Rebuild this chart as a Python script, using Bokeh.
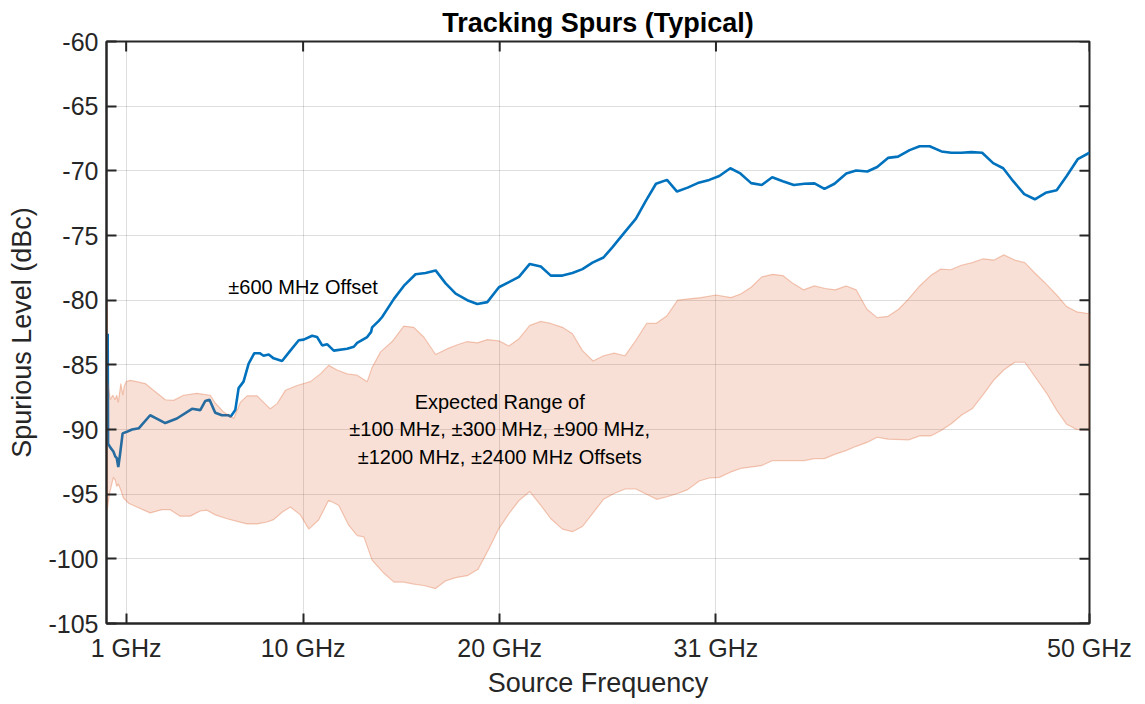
from bokeh.plotting import figure
from bokeh.models import FixedTicker, Range1d, Label, Title
from bokeh.embed import file_html
from bokeh.resources import INLINE

# ---------------- data (GHz, dBc) ----------------
x_ticks = [1, 10, 20, 31, 50]
x_tick_labels = ["1 GHz", "10 GHz", "20 GHz", "31 GHz", "50 GHz"]
y_ticks = [-105, -100, -95, -90, -85, -80, -75, -70, -65, -60]
y_tick_labels = ["-105", "-100", "-95", "-90", "-85", "-80", "-75", "-70", "-65", "-60"]

# +/-600 MHz offset spur (blue line)
freq_600 = [0.06, 0.08, 0.2, 0.35, 0.45, 0.52, 0.6, 0.69, 0.82, 1.0,
            1.3, 1.65, 2.22, 2.48, 2.99, 3.58, 4.35, 4.77, 5.02, 5.24,
            5.53, 5.87, 6.21, 6.32, 6.55, 6.72, 6.97, 7.23, 7.52, 7.79,
            7.99, 8.25, 8.5, 8.93, 9.35, 9.78, 10.03, 10.46, 10.71, 10.97,
            11.22, 11.56, 12.24, 12.58, 12.75, 13.26, 13.46, 13.51, 13.85, 14.02,
            14.62, 15.12, 15.72, 16.23, 16.74, 17.25, 17.76, 18.35, 18.86, 19.37,
            19.96, 20.47, 20.98, 21.53, 22.09, 22.6, 23.19, 23.7, 24.21, 24.72,
            25.28, 25.74, 26.33, 26.93, 27.44, 27.95, 28.51, 29.02, 29.56, 30.07,
            30.66, 31.17, 31.73, 32.24, 32.79, 33.33, 33.86, 34.40, 34.96, 35.50,
            36.01, 36.52, 37.03, 37.63, 38.13, 38.70, 39.2, 39.75, 40.26, 40.85,
            41.36, 41.87, 42.47, 42.97, 43.48, 43.99, 44.54, 45.1, 45.61, 46.12,
            46.68, 47.22, 47.77, 48.33, 48.84, 49.40, 50.0]
spur_600 = [-82.6, -91.1, -91.4, -91.7, -92.1, -92.2, -92.9, -91.9, -90.3, -90.2,
            -90.0, -89.9, -88.9, -89.1, -89.5, -89.15, -88.4, -88.5, -87.8, -87.7,
            -88.7, -88.9, -88.9, -89.0, -88.5, -86.8, -86.3, -84.9, -84.1, -84.1,
            -84.3, -84.2, -84.5, -84.7, -83.9, -83.1, -83.05, -82.75, -82.85, -83.5,
            -83.4, -83.9, -83.75, -83.6, -83.3, -82.85, -82.45, -82.1, -81.6, -81.3,
            -79.9, -78.9, -78.0, -77.9, -77.7, -78.7, -79.5, -80.0, -80.3, -80.15,
            -79.0, -78.6, -78.2, -77.2, -77.4, -78.1, -78.1, -77.9, -77.6, -77.1,
            -76.7, -75.9, -74.8, -73.7, -72.3, -71.0, -70.7, -71.6, -71.3, -70.95,
            -70.7, -70.4, -69.8, -70.2, -70.95, -71.1, -70.5, -70.8, -71.1, -71.0,
            -70.97, -71.4, -71.0, -70.2, -69.97, -70.05, -69.7, -69.0, -68.9, -68.4,
            -68.1, -68.1, -68.5, -68.6, -68.6, -68.55, -68.6, -69.4, -69.8, -70.8,
            -71.8, -72.2, -71.7, -71.5, -70.4, -69.1, -68.6]

# Expected range band: upper edge
freq_upper = [0.04, 0.06, 0.19, 0.32, 0.44, 0.52, 0.6, 0.73, 0.83, 0.9,
              1.0, 1.2, 1.54, 1.97, 2.39, 2.99, 3.41, 3.92, 4.6, 5.28,
              5.53, 5.96, 6.47, 6.81, 7.15, 7.66, 7.99, 8.33, 8.68, 9.1,
              9.69, 10.37, 10.88, 11.3, 11.73, 12.24, 12.75, 13.26, 13.51, 13.94,
              14.53, 15.12, 15.63, 16.14, 16.74, 17.34, 17.85, 18.35, 18.86, 19.37,
              19.96, 20.47, 20.98, 21.53, 22.09, 22.6, 23.19, 23.7, 24.21, 24.75,
              25.28, 25.82, 26.37, 26.93, 27.47, 27.95, 28.51, 29.05, 29.64, 30.24,
              31.0, 31.77, 32.28, 32.79, 33.33, 33.89, 34.40, 34.91, 35.45, 36.01,
              36.56, 37.07, 37.63, 38.13, 38.68, 39.2, 39.75, 40.29, 40.8, 41.36,
              41.92, 42.43, 42.94, 43.48, 44.03, 44.59, 45.15, 45.64, 46.2, 46.71,
              47.22, 47.73, 48.33, 48.84, 49.35, 50.0]
level_upper = [-79.9, -86.2, -87.7, -87.35, -87.7, -87.35, -87.9, -86.45, -87.35, -86.7,
               -86.3, -86.2, -86.3, -86.45, -86.97, -87.7, -87.75, -87.35, -87.2, -87.35,
               -87.95, -88.65, -89.15, -87.9, -87.4, -87.4, -87.9, -88.4, -88.0, -86.97,
               -86.6, -86.3, -85.7, -85.04, -85.4, -85.7, -85.8, -86.3, -85.2, -84.0,
               -83.2, -82.0, -82.1, -82.85, -84.2, -83.75, -83.45, -83.2, -83.3, -83.05,
               -83.15, -83.55, -82.98, -81.95, -81.64, -81.8, -82.1, -82.6, -83.9, -84.7,
               -84.3, -84.1, -84.3, -83.1, -81.8, -81.8, -81.2, -80.0, -79.9, -79.8,
               -79.6, -79.8, -79.5, -79.0, -78.2, -78.0, -78.1, -78.7, -79.2, -78.9,
               -79.1, -79.2, -78.9, -79.2, -80.7, -81.35, -81.25, -80.7, -79.9, -78.9,
               -78.1, -77.6, -77.65, -77.3, -77.1, -76.8, -76.9, -76.5, -76.9, -77.1,
               -77.9, -78.65, -79.6, -80.5, -80.9, -81.05]

# Expected range band: lower edge
freq_lower = [0.04, 0.15, 0.35, 0.44, 0.52, 0.6, 0.73, 0.86, 1.0, 1.12,
              1.54, 2.22, 2.82, 3.24, 3.75, 4.26, 4.77, 5.11, 5.53, 6.13,
              6.64, 7.15, 7.66, 8.17, 8.5, 8.93, 9.35, 9.86, 10.29, 10.79,
              11.3, 11.81, 12.32, 12.75, 13.09, 13.51, 14.1, 14.62, 15.12, 15.63,
              16.14, 16.74, 17.25, 17.76, 18.35, 18.9, 19.46, 19.96, 20.47, 20.98,
              21.53, 22.09, 22.6, 23.19, 23.7, 24.21, 24.72, 25.28, 25.82, 26.38,
              26.93, 27.47, 28.0, 28.51, 29.05, 29.56, 30.15, 30.66, 31.17, 31.73,
              32.28, 33.3, 33.89, 34.91, 35.5, 36.01, 36.52, 37.07, 37.58, 38.13,
              38.68, 39.2, 39.75, 40.8, 41.36, 41.92, 42.43, 42.97, 43.48, 44.03,
              44.59, 45.15, 45.64, 46.2, 46.71, 47.22, 47.82, 48.33, 48.84, 49.35,
              50.0]
level_lower = [-96.2, -94.95, -93.7, -93.9, -94.4, -94.2, -94.7, -95.3, -95.5, -95.7,
               -95.99, -96.45, -96.2, -96.2, -96.7, -96.7, -96.3, -96.24, -96.6, -96.9,
               -97.1, -97.3, -97.3, -97.15, -96.97, -96.4, -95.99, -96.6, -97.7, -97.0,
               -95.47, -95.86, -97.4, -98.2, -98.3, -100.1, -101.1, -101.8, -101.8, -101.95,
               -102.06, -102.3, -101.7, -101.45, -101.3, -100.8, -99.2, -97.66, -96.5, -95.5,
               -94.8, -95.86, -96.9, -97.7, -97.9, -97.5, -96.5, -95.4, -94.95, -94.6,
               -94.6, -95.0, -95.4, -95.2, -94.95, -94.65, -93.98, -93.75, -93.7, -93.3,
               -93.0, -92.8, -92.4, -92.4, -92.4, -92.25, -92.25, -91.9, -91.65, -91.3,
               -91.0, -90.6, -90.75, -90.8, -90.5, -90.5, -90.1, -89.55, -88.9, -88.4,
               -87.3, -86.15, -85.4, -84.8, -84.8, -85.9, -87.2, -88.5, -89.6, -90.0,
               -90.05]

# ---------------- styling ----------------
FONT = "Liberation Sans"
AX_COLOR = "#262626"
BLUE = "#0072BD"
ORANGE = "#D95319"
FRAME_W, FRAME_H = 983, 582
X0, X1, Y0, Y1 = 0, 50, -105, -60
TICK_PX = 10

p = figure(frame_width=FRAME_W, frame_height=FRAME_H, output_backend="svg",
           toolbar_location=None,
           x_range=Range1d(X0, X1), y_range=Range1d(Y0, Y1),
           min_border_left=106, min_border_right=49, min_border_top=41,
           min_border_bottom=70, background_fill_color="white",
           border_fill_color="white", outline_line_color=AX_COLOR,
           outline_line_width=2, outline_line_alpha=1.0)

p.title = Title(text="Tracking Spurs (Typical)", align="center",
                text_font=FONT, text_font_size="27px", text_font_style="bold",
                text_color="black", standoff=8)

# main axes
p.xaxis.ticker = FixedTicker(ticks=x_ticks)
p.xaxis.major_label_overrides = {t: lab for t, lab in zip(x_ticks, x_tick_labels)}
p.yaxis.ticker = FixedTicker(ticks=y_ticks)
p.yaxis.major_label_overrides = {t: lab for t, lab in zip(y_ticks, y_tick_labels)}
p.xaxis.axis_label = "Source Frequency"
p.yaxis.axis_label = "Spurious Level (dBc)"

for ax in (p.xaxis[0], p.yaxis[0]):
    ax.axis_line_color = AX_COLOR
    ax.axis_line_width = 2
    ax.major_tick_line_color = AX_COLOR
    ax.major_tick_line_width = 2
    ax.major_tick_in = TICK_PX
    ax.major_tick_out = 0
    ax.minor_tick_in = 0
    ax.minor_tick_out = 0
    ax.major_label_text_font = FONT
    ax.major_label_text_font_size = "25px"
    ax.major_label_text_color = AX_COLOR
    ax.axis_label_text_font = FONT
    ax.axis_label_text_font_size = "27px"
    ax.axis_label_text_font_style = "normal"
    ax.axis_label_text_color = AX_COLOR
p.xaxis.major_label_standoff = 10
p.xaxis.axis_label_standoff = 3
p.yaxis.major_label_standoff = 8
p.yaxis.axis_label_standoff = 8

# grid
p.xgrid.ticker = FixedTicker(ticks=x_ticks)
p.ygrid.ticker = FixedTicker(ticks=y_ticks)
p.grid.grid_line_color = "black"
p.grid.grid_line_alpha = 0.13
p.grid.grid_line_width = 1

# blue line (drawn first; band drawn on top, semi-transparent)
p.line(freq_600, spur_600, line_color=BLUE, line_width=2.6)

band_x = list(freq_upper) + list(reversed(freq_lower))
band_y = list(level_upper) + list(reversed(level_lower))
p.patch(band_x, band_y, fill_color=ORANGE, fill_alpha=0.18,
        line_color=ORANGE, line_alpha=0.3, line_width=1.2)

# inward tick marks on the top and right edges of the box (MATLAB "box on")
tick_dx = TICK_PX * (X1 - X0) / FRAME_W
tick_dy = TICK_PX * (Y1 - Y0) / FRAME_H
p.segment(x0=x_ticks, y0=[Y1] * len(x_ticks), x1=x_ticks,
          y1=[Y1 - tick_dy] * len(x_ticks), line_color=AX_COLOR, line_width=2)
p.segment(x0=[X1] * len(y_ticks), y0=y_ticks, x1=[X1 - tick_dx] * len(y_ticks),
          y1=y_ticks, line_color=AX_COLOR, line_width=2)

# annotations
p.add_layout(Label(x=10, y=-79, text="±600 MHz Offset", text_align="center",
                   text_baseline="middle", text_font=FONT, text_font_size="20px",
                   text_color="black"))
p.add_layout(Label(x=20, y=-90,
                   text="Expected Range of\n±100 MHz, ±300 MHz, ±900 MHz,\n±1200 MHz, ±2400 MHz Offsets",
                   text_align="center", text_baseline="middle", text_font=FONT,
                   text_font_size="20px", text_color="black", text_line_height=1.27))

open("out.html", "w").write(file_html(p, INLINE))
